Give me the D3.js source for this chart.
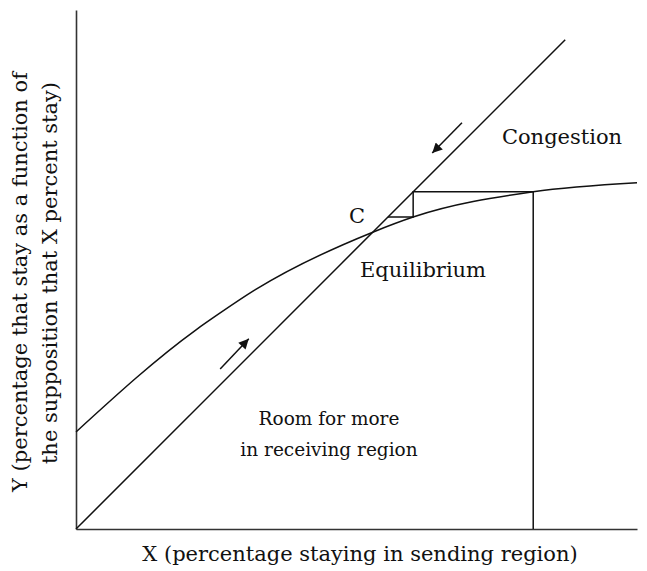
<!DOCTYPE html>
<html>
<head>
<meta charset="utf-8">
<script src="https://cdn.jsdelivr.net/npm/d3@7"></script>
<style>
  body { margin: 0; background: #fff; }
  text { font-family: "DejaVu Serif", serif; fill: #111; }
</style>
</head>
<body>
<svg id="chart" width="647" height="571"></svg>
<script>
// curve Y = f(X) (arbitrary 0-100 units)
var curveX = [0, 21.4, 25.7, 31.9, 52.9, 60.1, 81.5, 100];
var curveY = [17.3, 35.5, 38.5, 42.6, 52.9, 55.6, 60.1, 61.7];

// 45 degree line Y = X
var diagX = [0, 87.2];

// adjustment steps from the starting point back to equilibrium
var stepX = [81.5, 81.5, 60.1, 60.1, 55.6];
var stepY = [0, 60.1, 60.1, 55.6, 55.6];

// arrows along the diagonal: [from, to]
var arrowUp = [[25.7, 28.5], [30.8, 33.9]];
var arrowDown = [[68.8, 72.4], [63.5, 67.0]];

var svg = d3.select('#chart');

var x = d3.scaleLinear().domain([0, 100]).range([76, 637]);
var y = d3.scaleLinear().domain([0, 92.5]).range([529, 10]);

svg.append('defs').append('marker')
    .attr('id', 'head')
    .attr('viewBox', '0 0 10 10')
    .attr('refX', 10).attr('refY', 5)
    .attr('markerWidth', 14).attr('markerHeight', 10)
    .attr('markerUnits', 'userSpaceOnUse')
    .attr('orient', 'auto')
    .append('path')
    .attr('d', 'M0,0 L10,5 L0,10 Z')
    .attr('fill', '#111');

// axes, no ticks
svg.append('g')
    .attr('transform', 'translate(0,' + y(0) + ')')
    .call(d3.axisBottom(x).ticks(0).tickSizeOuter(0))
    .select('.domain').attr('stroke', '#333').attr('stroke-width', 1.6);
svg.append('g')
    .attr('transform', 'translate(' + x(0) + ',0)')
    .call(d3.axisLeft(y).ticks(0).tickSizeOuter(0))
    .select('.domain').attr('stroke', '#333').attr('stroke-width', 1.6);

var line = d3.line().x(function (d) { return x(d[0]); }).y(function (d) { return y(d[1]); });

svg.append('path')
    .datum(curveX.map(function (v, i) { return [v, curveY[i]]; }))
    .attr('d', line.curve(d3.curveMonotoneX))
    .attr('fill', 'none').attr('stroke', '#111').attr('stroke-width', 1.5);

line.curve(d3.curveLinear);

svg.append('path')
    .datum(diagX.map(function (v) { return [v, v]; }))
    .attr('d', line)
    .attr('fill', 'none').attr('stroke', '#111').attr('stroke-width', 1.5);

svg.append('path')
    .datum(stepX.map(function (v, i) { return [v, stepY[i]]; }))
    .attr('d', line)
    .attr('fill', 'none').attr('stroke', '#111').attr('stroke-width', 1.5);

[arrowUp, arrowDown].forEach(function (a) {
    svg.append('path')
        .datum(a)
        .attr('d', line)
        .attr('fill', 'none').attr('stroke', '#111').attr('stroke-width', 1.5)
        .attr('marker-end', 'url(#head)');
});

// labels
var labels = [
    { t: 'Congestion', x: 562, y: 144, s: 21 },
    { t: 'C', x: 357, y: 223, s: 21 },
    { t: 'Equilibrium', x: 423, y: 277, s: 21 },
    { t: 'Room for more', x: 329, y: 425, s: 18.5 },
    { t: 'in receiving region', x: 329, y: 456, s: 18.5 },
    { t: 'X (percentage staying in sending region)', x: 360, y: 561, s: 21 }
];
svg.selectAll('.lbl')
    .data(labels)
    .enter()
    .append('text')
    .attr('class', 'lbl')
    .attr('x', function (d) { return d.x; })
    .attr('y', function (d) { return d.y; })
    .attr('text-anchor', 'middle')
    .style('font-size', function (d) { return d.s + 'px'; })
    .text(function (d) { return d.t; });

svg.append('text')
    .attr('transform', 'translate(27,282) rotate(-90)')
    .attr('text-anchor', 'middle')
    .style('font-size', '21px')
    .text('Y (percentage that stay as a function of');
svg.append('text')
    .attr('transform', 'translate(57,273) rotate(-90)')
    .attr('text-anchor', 'middle')
    .style('font-size', '21px')
    .text('the supposition that X percent stay)');
</script>
</body>
</html>
